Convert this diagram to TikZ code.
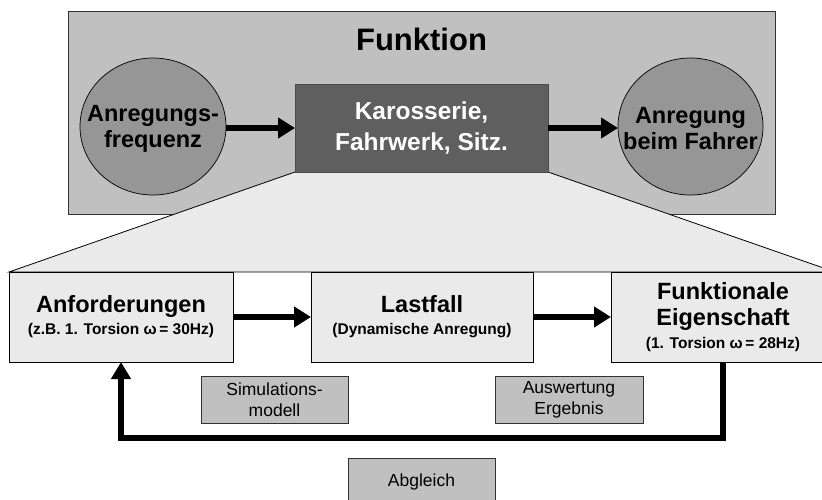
\documentclass[tikz,border=0pt]{standalone}
\usepackage{fontspec}
\setmainfont{Liberation Sans}
\usetikzlibrary{shapes.geometric,arrows.meta,calc}
\pgfdeclarelayer{back}
\pgfdeclarelayer{funnel}
\pgfsetlayers{back,funnel,main}

\definecolor{framegray}{HTML}{C0C0C0}
\definecolor{ellgray}{HTML}{969696}
\definecolor{darkgray}{HTML}{5F5F5F}
\definecolor{lightgray}{HTML}{EAEAEA}

\tikzset{
  topframe/.style={draw=black!80, line width=0.9pt, fill=framegray, inner sep=0pt, outer sep=0pt},
  ell/.style={ellipse, draw=black, line width=0.7pt, fill=ellgray, inner sep=0pt, outer sep=0pt},
  elltext/.style={align=center, inner sep=0pt, font=\fontsize{23.5}{26}\selectfont\bfseries},
  darkbox/.style={rectangle, draw=black!70, line width=0.7pt, fill=darkgray, text=white, inner sep=0pt,
    outer sep=0pt, align=center, font=\fontsize{24.5}{31}\selectfont\bfseries},
  stagebox/.style={rectangle, draw=black, line width=0.9pt, fill=lightgray, inner sep=0pt, outer sep=0pt,
    align=center, font=\fontsize{23.5}{26}\selectfont\bfseries},
  toolbox/.style={rectangle, draw=black!80, line width=0.9pt, fill=framegray, inner sep=0pt, outer sep=0pt,
    align=center, font=\fontsize{17.5}{21}\selectfont},
  flow/.style={line width=6.5pt, -{Triangle[length=17pt,width=20pt]}},
  feedback/.style={line width=6.5pt, line join=miter, -{Triangle[length=17pt,width=19pt]}},
  funnelfill/.style={fill=lightgray, draw=black, line width=0.8pt}
}
\newcommand{\subline}{\fontsize{15.5}{18}\selectfont}

\begin{document}
\begin{tikzpicture}[x=1pt,y=-1pt]
  \useasboundingbox (0,0) rectangle (822,499);
  \clip (0,0) rectangle (822,499);

  % upper frame: the function as a whole
  \begin{pgfonlayer}{back}
    \node[topframe, minimum width=707pt, minimum height=203pt] (frame) at (421.5,112.5) {};
  \end{pgfonlayer}
  \node[font=\fontsize{31}{31}\selectfont\bfseries, anchor=base, inner sep=0pt] (title) at (421.5,50) {Funktion};

  \node[ell, minimum width=146pt, minimum height=137pt] (src) at (153,126.5) {};
  \node[elltext] (srcT) at (153,129) {Anregungs-\\frequenz};
  \node[ell, minimum width=145pt, minimum height=137pt] (drv) at (690.5,126.5) {};
  \node[elltext] (drvT) at (690.5,129) {Anregung\\beim Fahrer};
  \node[darkbox, minimum width=253pt, minimum height=88pt] (sys) at (421.5,128) {Karosserie,\\Fahrwerk, Sitz.};

  \draw[flow] (src.east |- sys.west) -- (sys.west);
  \draw[flow] (sys.east) -- (drv.west |- sys.east);

  % lower process chain
  \node[stagebox, minimum width=224pt, minimum height=90pt] (anf) at (121,317)
    {Anforderungen\\[-4pt]{\subline (z.B. 1. Torsion ω\,= 30Hz)}};
  \node[stagebox, minimum width=222pt, minimum height=90pt] (last) at (422,317)
    {Lastfall\\[-4pt]{\subline (Dynamische Anregung)}};
  \node[stagebox, minimum width=224pt, minimum height=90pt] (eig) at (723,317)
    {Funktionale\\Eigenschaft\\[-3pt]{\subline (1. Torsion ω\,= 28Hz)}};

  % zoom funnel from the system box down to the chain
  \begin{pgfonlayer}{funnel}
    \draw[funnelfill] (sys.south west) -- (sys.south east) -- (eig.north east) -- (anf.north west) -- cycle;
  \end{pgfonlayer}

  \draw[flow] (anf.east) -- (last.west);
  \draw[flow] (last.east) -- (eig.west);

  \node[toolbox, minimum width=147pt, minimum height=47pt] (sim) at (274.5,399.5) {Simulations-\\modell};
  \node[toolbox, minimum width=148pt, minimum height=47pt] (ausw) at (569,399.5) {Auswertung\\Ergebnis};
  \node[toolbox, minimum width=147pt, minimum height=47pt] (abg) at (421.5,481.5) {Abgleich};

  % comparison loop back to the requirements
  \coordinate (loop) at (0,438);
  \draw[feedback] (eig.south) -- (eig.south |- loop) -- (anf.south |- loop) -- (anf.south);
\end{tikzpicture}
\end{document}
